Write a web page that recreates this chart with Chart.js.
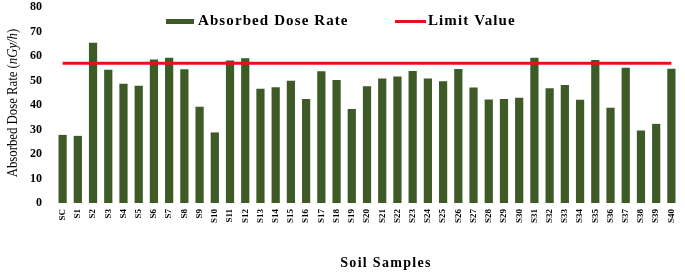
<!DOCTYPE html>
<html>
<head>
<meta charset="utf-8">
<script src="https://cdn.jsdelivr.net/npm/chart.js@4"></script>
<style>
    html, body { margin: 0; padding: 0; background: #fff; }
    #doseChart { display: block; }
</style>
</head>
<body>
<canvas id="doseChart" width="685" height="272"></canvas>
<script>
// Data
const samples = ["SC", "S1", "S2", "S3", "S4", "S5", "S6", "S7", "S8", "S9", "S10",
    "S11", "S12", "S13", "S14", "S15", "S16", "S17", "S18", "S19", "S20",
    "S21", "S22", "S23", "S24", "S25", "S26", "S27", "S28", "S29", "S30",
    "S31", "S32", "S33", "S34", "S35", "S36", "S37", "S38", "S39", "S40"];

const doseRate = [27.8, 27.4, 65.4, 54.4, 48.7, 47.9, 58.6, 59.3, 54.6, 39.3, 28.8,
    58.2, 59.1, 46.6, 47.2, 49.9, 42.4, 53.8, 50.2, 38.4, 47.7,
    50.8, 51.6, 53.9, 50.8, 49.7, 54.7, 47.1, 42.2, 42.5, 43.0,
    59.3, 46.8, 48.2, 42.1, 58.4, 38.9, 55.2, 29.6, 32.3, 54.8];

const limitValue = 57;
const limitLine = samples.map(() => limitValue);

const yTicks = [0, 10, 20, 30, 40, 50, 60, 70, 80];

const barColor = "#3d5a27";
const lineColor = "#e5121b";
const serif = "'Liberation Serif', 'Times New Roman', serif";

// Legend + axis titles drawn by hand (legend sits inside the plot, y title has italics,
// the figure's text is stretched wide so letter spacing is needed)
const extras = {
    id: "extras",
    afterDraw(chart) {
        const ctx = chart.ctx;
        const sets = chart.data.datasets;
        ctx.save();

        // legend
        ctx.font = "bold 15px " + serif;
        ctx.textBaseline = "middle";
        ctx.letterSpacing = "1.1px";

        ctx.fillStyle = sets[0].backgroundColor;
        ctx.fillRect(166, 19, 28, 5);
        ctx.fillStyle = "#000";
        ctx.fillText(sets[0].label, 198, 21.5);

        ctx.fillStyle = sets[1].borderColor;
        ctx.fillRect(395, 20, 31, 3);
        ctx.fillStyle = "#000";
        ctx.fillText(sets[1].label, 428, 21.5);

        // x axis title
        ctx.font = "bold 14px " + serif;
        ctx.letterSpacing = "1.3px";
        ctx.textAlign = "center";
        ctx.fillText("Soil Samples", 386, 263);

        // y axis title (squeezed along its length like the original)
        ctx.letterSpacing = "0px";
        ctx.textAlign = "left";
        ctx.translate(13, 103);
        ctx.rotate(-Math.PI / 2);
        ctx.scale(0.88, 1);
        const parts = [
            ["Absorbed Dose Rate (", "14.5px " + serif],
            ["nGy/h", "italic 14.5px " + serif],
            [")", "14.5px " + serif]
        ];
        let total = 0;
        parts.forEach(p => { ctx.font = p[1]; total += ctx.measureText(p[0]).width; });
        let x = -total / 2;
        parts.forEach(p => {
            ctx.font = p[1];
            ctx.fillText(p[0], x, 0);
            x += ctx.measureText(p[0]).width;
        });

        ctx.restore();
    }
};

const chart = new Chart(document.getElementById("doseChart"), {
    type: "bar",
    data: {
        labels: samples,
        datasets: [{
            label: "Absorbed Dose Rate",
            data: doseRate,
            backgroundColor: barColor,
            barPercentage: 0.54,
            categoryPercentage: 1,
            order: 1
        }, {
            type: "line",
            label: "Limit Value",
            data: limitLine,
            borderColor: lineColor,
            backgroundColor: lineColor,
            borderWidth: 3,
            pointRadius: 0,
            fill: false,
            order: 0
        }]
    },
    options: {
        responsive: false,
        animation: false,
        layout: { padding: { left: 30, right: 6, top: 7, bottom: 0 } },
        plugins: {
            legend: { display: false },
            tooltip: { enabled: false }
        },
        scales: {
            x: {
                grid: { display: false, drawTicks: false },
                border: { display: false },
                ticks: {
                    autoSkip: false,
                    minRotation: 90,
                    maxRotation: 90,
                    padding: 6,
                    color: "#000",
                    font: { family: serif, size: 9, weight: "bold" }
                },
                afterFit: s => {
                    s.height = 69;
                    s.paddingLeft = 0;
                    s.paddingRight = 0;
                }
            },
            y: {
                min: 0,
                max: 80,
                afterBuildTicks: axis => { axis.ticks = yTicks.map(v => ({ value: v })); },
                grid: { display: false, drawTicks: false },
                border: { display: false },
                ticks: {
                    padding: 13,
                    color: "#000",
                    font: { family: serif, size: 12, weight: "bold" }
                },
                afterFit: s => {
                    s.width = 25;
                    s.paddingTop = 0;
                    s.paddingBottom = 0;
                }
            }
        }
    },
    plugins: [extras]
});
</script>
</body>
</html>
